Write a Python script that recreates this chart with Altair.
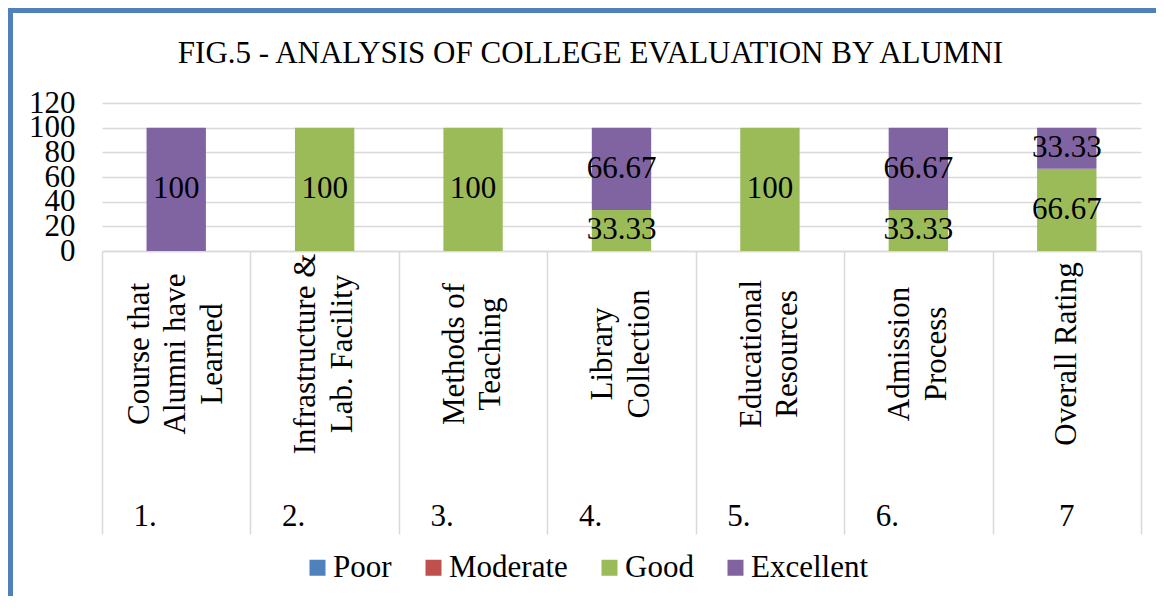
import altair as alt
import pandas as pd

categories = [
    "Course that Alumni have Learned",
    "Infrastructure & Lab. Facility",
    "Methods of Teaching",
    "Library Collection",
    "Educational Resources",
    "Admission Process",
    "Overall Rating",
]
label_lines = [
    "Course that|Alumni have|Learned",
    "Infrastructure &|Lab. Facility",
    "Methods of|Teaching",
    "Library|Collection",
    "Educational|Resources",
    "Admission|Process",
    "Overall Rating",
]
serials = ["1.", "2.", "3.", "4.", "5.", "6.", "7"]

series = ["Poor", "Moderate", "Good", "Excellent"]
colors = ["#4F81BD", "#C0504D", "#9BBB59", "#8064A2"]

poor = [0, 0, 0, 0, 0, 0, 0]
moderate = [0, 0, 0, 0, 0, 0, 0]
good = [0, 100, 100, 33.33, 100, 33.33, 66.67]
excellent = [100, 0, 0, 66.67, 0, 66.67, 33.33]

y_ticks = [0, 20, 40, 60, 80, 100, 120]
title_text = "FIG.5 - ANALYSIS OF COLLEGE EVALUATION BY ALUMNI"

FONT = "Liberation Serif"
FS = 31
GRID = "#D9D9D9"
LINE_H = 36.5

rows = []
for s_i, (name, vals) in enumerate(zip(series, [poor, moderate, good, excellent])):
    for c, v in zip(categories, vals):
        rows.append({"category": c, "series": name, "value": v, "order": s_i})
df = pd.DataFrame(rows)

lab_df = pd.DataFrame({"category": categories, "lines": label_lines, "serial": serials})

W, H = 1039, 148

xscale = alt.Scale(paddingInner=0, paddingOuter=0)
xaxis = alt.Axis(
    labels=False,
    tickBand="extent",
    tickSize=283,
    tickColor=GRID,
    tickWidth=1.5,
    domainColor=GRID,
    domainWidth=1.5,
    grid=False,
    title=None,
)
yscale = alt.Scale(domain=[0, 120], nice=False)
yaxis = alt.Axis(
    values=y_ticks,
    domain=False,
    ticks=False,
    labelPadding=27,
    labelFont=FONT,
    labelFontSize=FS,
    labelColor="black",
    labelOverlap=False,
    labelFlush=False,
    gridColor=GRID,
    gridWidth=1.5,
    title=None,
)


def xenc():
    return alt.X("category:N", sort=categories, scale=xscale, axis=xaxis)


base = (
    alt.Chart(df)
    .transform_filter("datum.value > 0")
    .transform_stack(
        stack="value",
        groupby=["category"],
        as_=["y0", "y1"],
        sort=[alt.SortField("order", order="ascending")],
    )
    .transform_calculate(mid="(datum.y0 + datum.y1) / 2")
)

bars = base.mark_bar(width=alt.RelativeBandSize(0.4)).encode(
    x=xenc(),
    y=alt.Y("y0:Q", scale=yscale, axis=yaxis),
    y2="y1:Q",
    color=alt.Color(
        "series:N",
        scale=alt.Scale(domain=series, range=colors),
        legend=alt.Legend(
            orient="none",
            legendX=200,
            legendY=449,
            direction="horizontal",
            title=None,
            symbolType="square",
            symbolSize=256,
            symbolStrokeWidth=0,
            symbolOpacity=1,
            labelFont=FONT,
            labelFontSize=FS,
            labelColor="black",
            labelOffset=0,
            columnPadding=26,
            padding=0,
        ),
    ),
)

values_text = base.mark_text(
    font=FONT, fontSize=FS, color="black", align="center", baseline="middle"
).encode(
    x=xenc(),
    y=alt.Y("mid:Q", scale=yscale, axis=yaxis),
    text=alt.Text("value:Q"),
)

cat_base = alt.Chart(lab_df).transform_calculate(
    n="length(split(datum.lines, '|'))"
)
cat_layers = []
for n_lines in (1, 2, 3):
    cat_layers.append(
        cat_base.transform_filter(f"datum.n == {n_lines}")
        .mark_text(
            font=FONT,
            fontSize=FS,
            color="black",
            angle=270,
            align="center",
            baseline="middle",
            lineBreak="|",
            lineHeight=LINE_H,
            dy=-(n_lines - 1) * LINE_H / 2,
        )
        .encode(
            x=xenc(),
            y=alt.value(251),
            text="lines:N",
        )
    )

serial_dot = alt.Chart(lab_df).transform_filter(
    "indexof(datum.serial, '.') > 0"
).mark_text(
    font=FONT, fontSize=FS, color="black", align="center", baseline="middle", dx=-31
).encode(
    x=xenc(),
    y=alt.value(414),
    text="serial:N",
)

serial_plain = alt.Chart(lab_df).transform_filter(
    "indexof(datum.serial, '.') < 0"
).mark_text(
    font=FONT, fontSize=FS, color="black", align="center", baseline="middle"
).encode(
    x=xenc(),
    y=alt.value(414),
    text="serial:N",
)

frame_data = alt.Data(values=[{"k": 1}])
border_top = alt.Chart(frame_data).mark_rule(color="#4F81BD", strokeWidth=5).encode(
    x=alt.value(-94), x2=alt.value(W + 15), y=alt.value(-92.5)
)
border_left = alt.Chart(frame_data).mark_rule(color="#4F81BD", strokeWidth=5).encode(
    x=alt.value(-91.5), y=alt.value(-95), y2=alt.value(500)
)

chart = (
    alt.layer(bars, values_text, *cat_layers, serial_dot, serial_plain, border_top, border_left)
    .properties(
        width=W,
        height=H,
        autosize="none",
        padding={"left": 94, "top": 95, "right": 15, "bottom": 345},
        title=alt.TitleParams(
            text=title_text,
            font=FONT,
            fontSize=FS,
            fontWeight="normal",
            color="black",
            anchor="middle",
            frame="group",
            baseline="alphabetic",
            dx=-31,
            offset=-88,
        ),
        background="white",
    )
    .configure_view(stroke=None)
    .configure_axisY(labelOverlap=False)
)

chart.save("out.html", embed_options={"renderer": "svg", "actions": False})
